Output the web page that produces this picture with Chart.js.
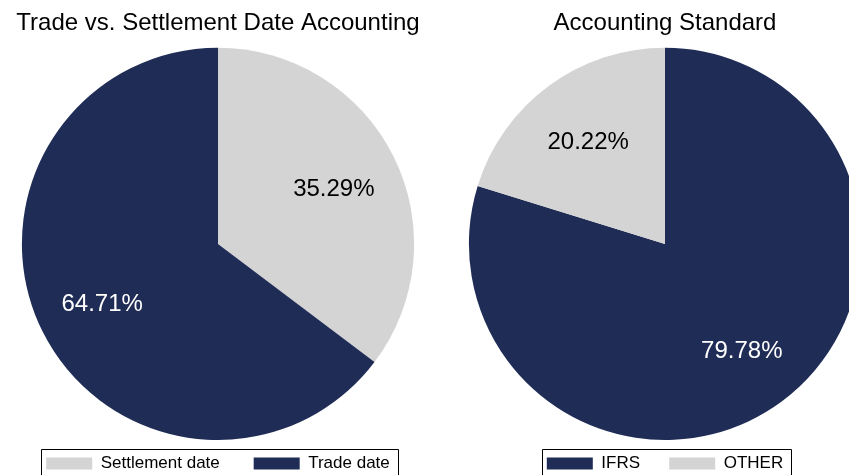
<!DOCTYPE html>
<html>
<head>
<meta charset="utf-8">
<script src="https://cdn.jsdelivr.net/npm/chart.js@4.4.1/dist/chart.umd.min.js"></script>
<style>
  html, body { margin: 0; padding: 0; background: #fff; }
  body { width: 849px; height: 475px; overflow: hidden; position: relative; }
  .box { position: absolute; top: 0; width: 436px; height: 475px; }
</style>
</head>
<body>
<div class="box" style="left:0px"><canvas id="chartLeft" width="436" height="475"></canvas></div>
<div class="box" style="left:447px"><canvas id="chartRight" width="436" height="475"></canvas></div>
<script>
const navy = '#1f2c55';
const grey = '#d4d4d4';

// left pie
const leftTitle = 'Trade vs. Settlement Date Accounting';
const leftLabels = ['Settlement date', 'Trade date'];
const leftValues = [35.29, 64.71];
const leftColors = [grey, navy];

// right pie
const rightTitle = 'Accounting Standard';
const rightLabels = ['IFRS', 'OTHER'];
const rightValues = [79.78, 20.22];
const rightColors = [navy, grey];

const fontFam = '"Liberation Sans", Arial, sans-serif';
Chart.defaults.font.family = fontFam;
Chart.defaults.color = '#000';

// percent labels inside the slices
const pctLabels = {
    id: 'pctLabels',
    afterDatasetsDraw(chart) {
        const ctx = chart.ctx;
        const meta = chart.getDatasetMeta(0);
        const ds = chart.data.datasets[0];
        ctx.save();
        ctx.font = '24px ' + fontFam;
        ctx.textAlign = 'center';
        ctx.textBaseline = 'middle';
        meta.data.forEach((arc, i) => {
            const p = arc.getProps(['x', 'y', 'startAngle', 'endAngle', 'outerRadius'], true);
            const mid = (p.startAngle + p.endAngle) / 2;
            const r = p.outerRadius * 0.66;
            ctx.fillStyle = ds.backgroundColor[i] === navy ? '#fff' : '#000';
            ctx.fillText(ds.data[i].toFixed(2) + '%', p.x + Math.cos(mid) * r, p.y + Math.sin(mid) * r + 3);
        });
        ctx.restore();
    }
};

// frame round the legend (runs off the bottom edge like the original)
const legendFrame = {
    id: 'legendFrame',
    afterDraw(chart) {
        const boxes = chart.legend.legendHitBoxes;
        if (!boxes || !boxes.length) return;
        const first = boxes[0];
        const last = boxes[boxes.length - 1];
        const ctx = chart.ctx;
        const x0 = Math.round(first.left - 5) + 0.5;
        const x1 = Math.round(last.left + last.width + 8) + 0.5;
        const y0 = Math.round(first.top - 6) + 0.5;
        ctx.save();
        ctx.strokeStyle = '#000';
        ctx.lineWidth = 1;
        ctx.beginPath();
        ctx.moveTo(x0, chart.height + 2);
        ctx.lineTo(x0, y0);
        ctx.lineTo(x1, y0);
        ctx.lineTo(x1, chart.height + 2);
        ctx.stroke();
        ctx.restore();
    }
};

function makePie(id, title, labels, values, colors, gap) {
    new Chart(document.getElementById(id), {
        type: 'pie',
        data: {
            labels: labels,
            datasets: [{
                data: values,
                backgroundColor: colors,
                borderWidth: 0
            }]
        },
        options: {
            responsive: false,
            animation: false,
            events: [],
            layout: { padding: 0 },
            plugins: {
                title: {
                    display: true,
                    text: title,
                    font: { size: 24, weight: 'normal' },
                    padding: { top: 9, bottom: 10 }
                },
                legend: {
                    position: 'bottom',
                    maxHeight: 35,
                    labels: {
                        boxWidth: 46,
                        boxHeight: 12,
                        padding: 15,
                        font: { size: 17 },
                        generateLabels(chart) {
                            const items = Chart.overrides.pie.plugins.legend.labels.generateLabels(chart);
                            // extra room between entries
                            items.forEach((it, i) => {
                                if (i < items.length - 1) it.text += gap;
                            });
                            return items;
                        }
                    }
                },
                tooltip: { enabled: false }
            }
        },
        plugins: [pctLabels, legendFrame]
    });
}

makePie('chartLeft', leftTitle, leftLabels, leftValues, leftColors, '    ');
makePie('chartRight', rightTitle, rightLabels, rightValues, rightColors, '   ');
</script>
</body>
</html>
